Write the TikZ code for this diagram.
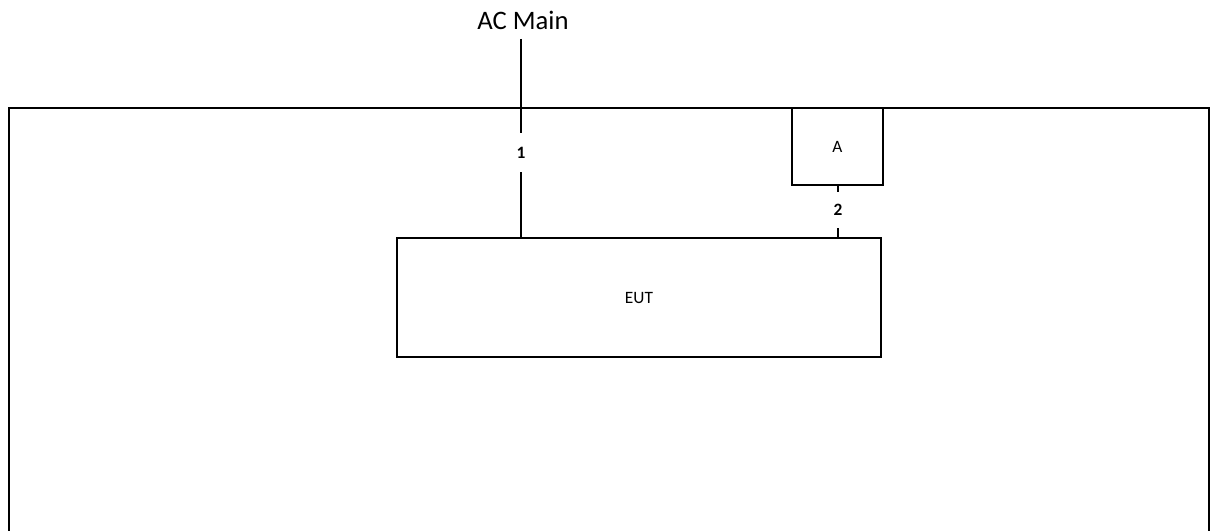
\documentclass[tikz,border=0pt]{standalone}
\usepackage{fontspec}
\setmainfont{Carlito}
\tikzset{
  unitbox/.style={draw, line width=1.8pt, inner sep=0pt, font=\fontsize{13}{15}\selectfont},
  cablenum/.style={inner sep=0pt, font=\fontsize{13}{15}\selectfont\bfseries},
  cable/.style={line width=0.8pt},
  frame/.style={line width=1.9pt}
}
\begin{document}
\begin{tikzpicture}[x=0.75pt, y=-0.75pt]
\useasboundingbox (0,0) rectangle (1212,531);
% test table outline, open at the bottom
\draw[frame] (9,533) -- (9,108) -- (1209,108) -- (1209,533);
\node[font=\fontsize{20}{24}\selectfont] (acmain) at (523,20) {AC Main};
\coordinate (mains) at (521,39);
\node[unitbox, minimum width=363pt, minimum height=89.25pt] (eut) at (639,297.5) {EUT};
\node[unitbox, minimum width=68.25pt, minimum height=57.75pt] (boxa) at (837.5,146.5) {A};
\node[cablenum, minimum height=29.25pt] (one) at (521,152.5) {1};
\node[cablenum, minimum height=27pt] (two) at (838,210) {2};
\draw[cable] (mains) -- (one);
\draw[cable] (one) -- (one |- eut.north);
\draw[cable] (boxa.south -| two) -- (two);
\draw[cable] (two) -- (two |- eut.north);
\end{tikzpicture}
\end{document}
